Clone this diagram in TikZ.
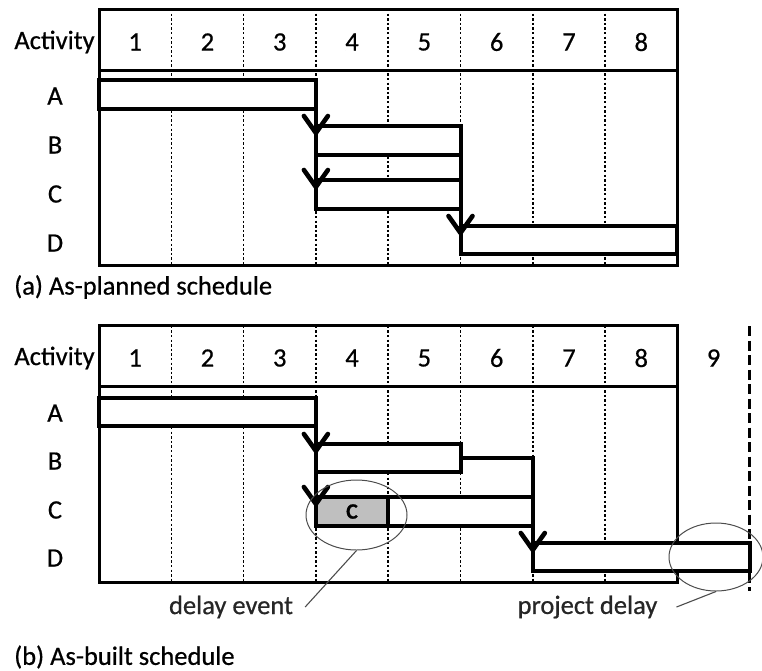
\documentclass[tikz,border=0pt]{standalone}
\usepackage{fontspec}
\setmainfont[FakeBold=0.6]{Carlito}
\usetikzlibrary{shapes.geometric}

\begin{document}
\begin{tikzpicture}[x=1pt,y=-1pt,
  frameline/.style={line width=3pt},
  gridline/.style={line width=1.6pt, dash pattern=on 2.4pt off 2.2pt},
  finishline/.style={line width=2.6pt, dash pattern=on 10pt off 4.5pt},
  bar/.style={draw, line width=4pt, fill=white, minimum height=28.5pt,
    inner sep=0pt, outer sep=0pt, anchor=north west},
  dep/.style={line width=4pt, line join=miter},
  vtip/.pic={
    \draw[line width=4.6pt, line join=round, line cap=round]
      (-12,-17) .. controls (-7,-10) .. (0,0) .. controls (7,-10) .. (12,-17);
    \fill (-5,-7) -- (0,1.5) -- (5,-7) -- cycle;},
  lbl/.style={font=\fontsize{26.5}{30}\selectfont, inner sep=0pt},
  note/.style={lbl, text=black!85},
  ring/.style={draw=black!70, line width=1pt, ellipse, inner sep=0pt},
  leader/.style={draw=black!70, line width=1.1pt},
]
\useasboundingbox (0,0) rectangle (762,670);

% ---------------- (a) as-planned schedule ----------------
\foreach \x in {171.3,243.6,315.9,388.2,460.5,532.8,605.1}
  \draw[gridline] (\x,9) -- (\x,265.5);
\draw[frameline] (99,9) rectangle (677.4,265.5);
\draw[frameline] (99,70) -- (677.4,70);

\node[lbl] (ha) at (54.5,42) {Activity};
\foreach \n [count=\i] in {1,...,8}
  \node[lbl] (ha\i) at ({99+72.3*(\i-0.5)},42) {\n};
\node[lbl] (ra1) at (55,96) {A};
\node[lbl] (ra2) at (55,145) {B};
\node[lbl] (ra3) at (55,194) {C};
\node[lbl] (ra4) at (55,243) {D};

\node[bar, minimum width=216.9pt, minimum height=29pt] (pA) at (99,80) {};
\node[bar, minimum width=144.6pt] (pB) at (315.9,126) {};
\node[bar, minimum width=144.6pt] (pC) at (315.9,180) {};
\node[bar, minimum width=216.9pt] (pD) at (460.5,225.5) {};

% finish-to-start links, arrowheads where each successor starts
\draw[dep] (pA.south east) -- ([yshift=-7pt]pB.north west);
\draw[dep] (pA.south east) -- ([yshift=-7pt]pC.north west);
\draw[dep] (pB.south east) -- ([yshift=-7pt]pD.north west);
\draw[dep] (pC.south east) -- ([yshift=-7pt]pD.north west);
\pic at ([yshift=-7pt]pB.north west) {vtip};
\pic at ([yshift=-7pt]pC.north west) {vtip};
\pic at ([yshift=-7.5pt]pD.north west) {vtip};

\node[lbl, anchor=west] (capa) at (14,287) {(a) As-planned schedule};

% ---------------- (b) as-built schedule ----------------
\foreach \x in {171.3,243.6,315.9,388.2,460.5,532.8,605.1}
  \draw[gridline] (\x,325.7) -- (\x,582.7);
\draw[frameline] (99,325.7) rectangle (677.4,582.7);
\draw[frameline] (99,386.7) -- (677.4,386.7);
\coordinate (ftop) at (749.7,326);
\coordinate (fbot) at (749.7,591);
\draw[finishline] (ftop) -- (fbot);

\node[lbl] (hb) at (54.5,358) {Activity};
\foreach \n [count=\i] in {1,...,9}
  \node[lbl] (hb\i) at ({99+72.3*(\i-0.5)},358) {\n};
\node[lbl] (rb1) at (55,413) {A};
\node[lbl] (rb2) at (55,461) {B};
\node[lbl] (rb3) at (55,510) {C};
\node[lbl] (rb4) at (55,558) {D};

\node[bar] (qA) at (99,397.5) [minimum width=216.9pt] {};
\node[bar, minimum width=144.6pt, minimum height=28pt] (qB) at (315.9,444) {};
\node[bar, minimum width=144.6pt, minimum height=29pt] (qCw) at (388.2,497) {};
\node[bar, minimum width=72.3pt, minimum height=29pt, fill=black!25,
      font=\bfseries\fontsize{22}{24}\selectfont] (qCd) at (315.9,497) {C};
\node[bar, minimum width=216.9pt, minimum height=28pt] (qD) at (532.8,542.5) {};

\coordinate (bx) at (532.8,458);
\draw[dep] (qA.south east) -- ([yshift=-7pt]qB.north west);
\draw[dep] (qA.south east) -- ([yshift=-7pt]qCd.north west);
\draw[dep] (qB.east) -- (bx) -- ([yshift=-7.5pt]qD.north west);
\draw[dep] (qCw.south east) -- ([yshift=-7.5pt]qD.north west);
\pic at ([yshift=-7pt]qB.north west) {vtip};
\pic at ([yshift=-7pt]qCd.north west) {vtip};
\pic at ([yshift=-7.5pt]qD.north west) {vtip};

\node[ring, minimum width=101pt, minimum height=70pt] (e1) at (356.5,515) {};
\node[ring, minimum width=94pt, minimum height=68pt] (e2) at (716,557) {};

\node[note] (ev) at (231,607) {delay event};
\node[note] (pd) at (587.5,607) {project delay};
\draw[leader] ([xshift=12pt]ev.east) -- (e1.south);
\draw[leader] ([xshift=19pt]pd.east) -- (e2.south);

\node[lbl, anchor=west] (capb) at (14,657) {(b) As-built schedule};
\end{tikzpicture}
\end{document}
